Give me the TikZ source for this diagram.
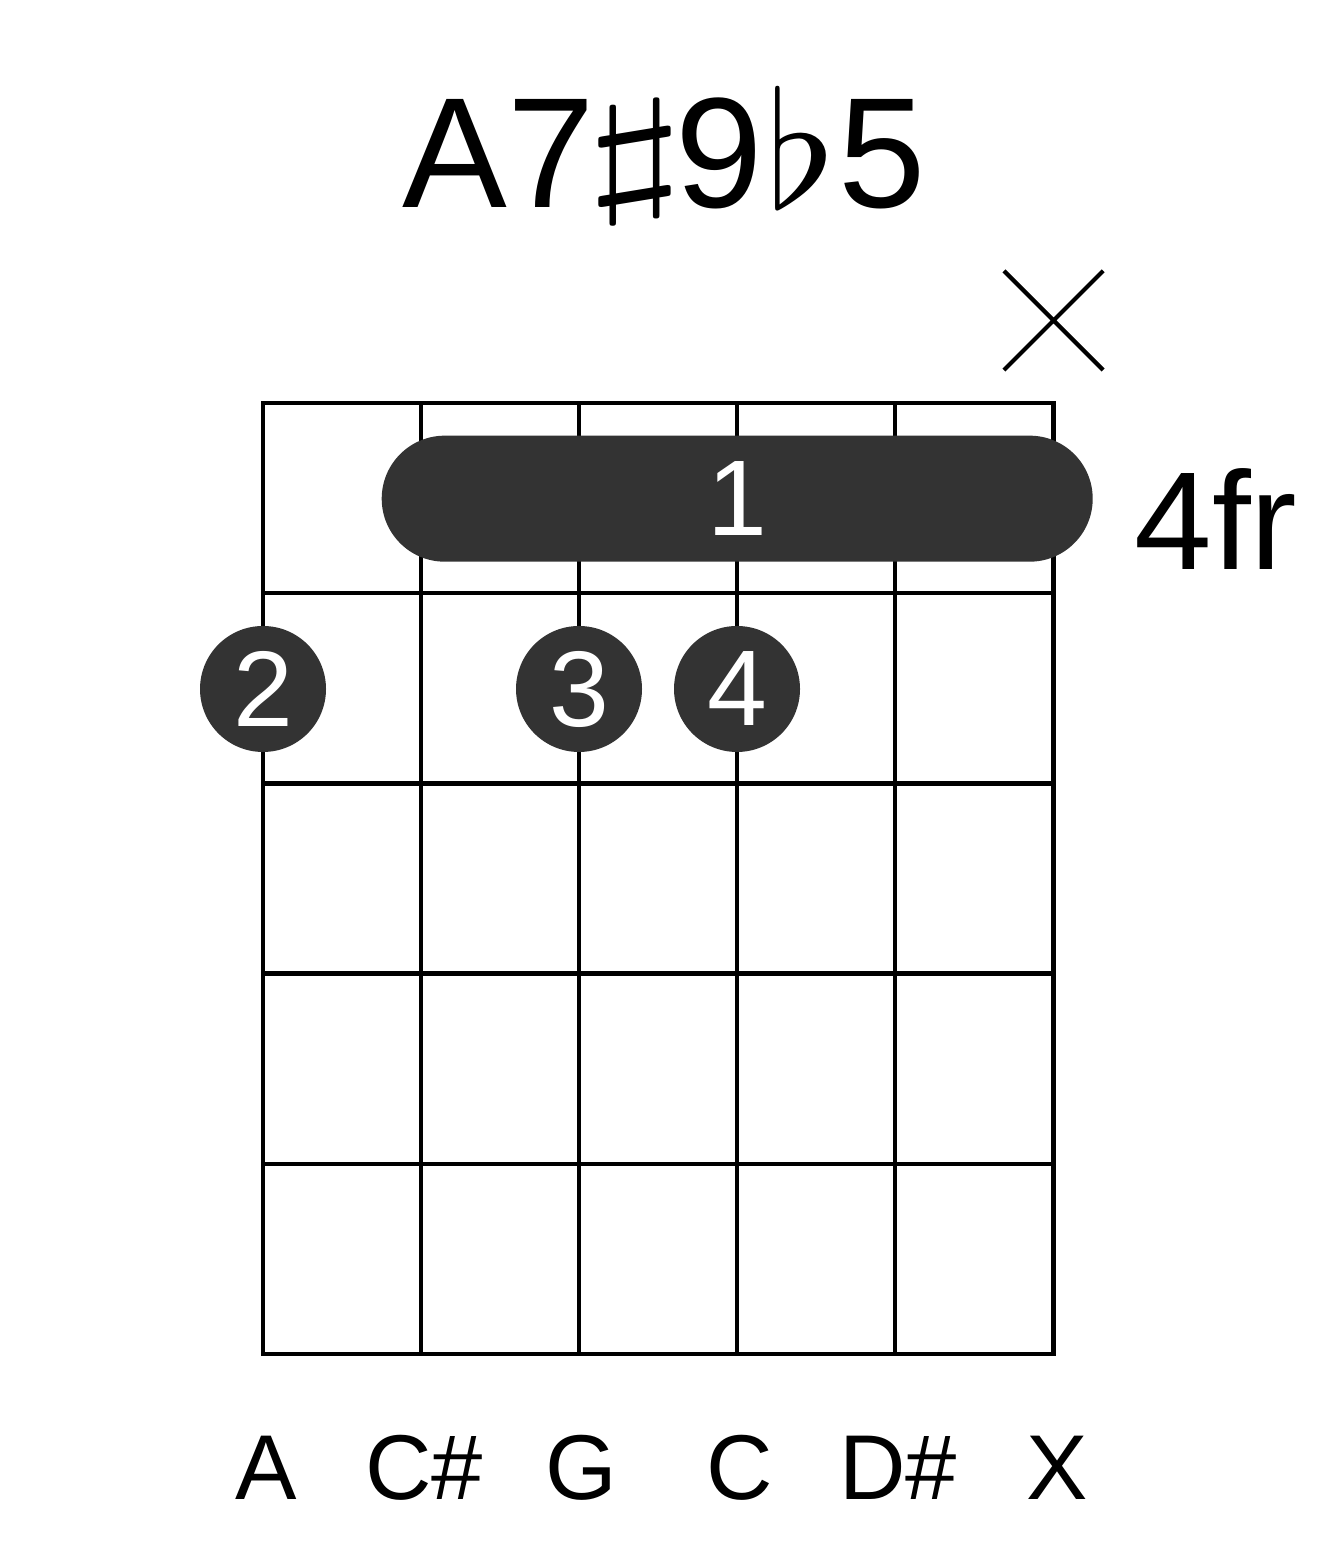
\documentclass[tikz,border=0pt]{standalone}
\usepackage{fontspec}
\usepackage{graphicx}
\setmainfont{Liberation Sans}
\usetikzlibrary{shapes.misc}
\definecolor{fingergray}{HTML}{333333}
\newcommand{\chsharp}{\makebox[0.81cm][c]{\raisebox{0.11cm}{\scalebox{7.4}[3.92]{\fontsize{10}{12}\selectfont$\sharp$}}}}
\newcommand{\chflat}{\makebox[0.75cm][c]{\scalebox{5.2}[4.6]{\fontsize{10}{12}\selectfont$\flat$}}}
\tikzset{
	fret/.style={line width=1.3pt},
	finger/.style={circle, fill=fingergray, text=white, minimum size=1.26cm, inner sep=0pt, font=\fontsize{30.6}{32}\selectfont},
	barre/.style={rounded rectangle, fill=fingergray, text=white, minimum width=7.11cm, minimum height=1.26cm, inner sep=0pt, font=\fontsize{30.6}{32}\selectfont},
	mute/.style={cross out, draw, line width=1.2pt, minimum size=0.95cm, inner sep=0pt},
	note/.style={anchor=base, font=\fontsize{26.2}{28}\selectfont}
}
\begin{document}
\begin{tikzpicture}
			\useasboundingbox (0,0) rectangle (13.17,15.51);
			\node[anchor=base west, inner sep=0pt, font=\fontsize{44.7}{50}\selectfont] (title) at (4.02,13.43) {A7\chsharp9\chflat5};
			\node[mute] (mute) at (10.535,12.305) {};
			% grid
			\draw[fret] (2.63,1.97) rectangle (10.535,11.48);
			\draw[fret] (4.21,1.97) -- (4.21,11.48);
			\draw[fret] (5.79,1.97) -- (5.79,11.48);
			\draw[fret] (7.37,1.97) -- (7.37,11.48);
			\draw[fret] (8.95,1.97) -- (8.95,11.48);
			\draw[fret] (2.63,9.578) -- (10.535,9.578);
			\draw[fret] (2.63,7.676) -- (10.535,7.676);
			\draw[fret] (2.63,5.774) -- (10.535,5.774);
			\draw[fret] (2.63,3.872) -- (10.535,3.872);
			% fingers
			\node[barre] (barre) at (7.372,10.523) {1};
			\node[finger] (two) at (2.63,8.62) {2};
			\node[finger] (three) at (5.79,8.62) {3};
			\node[finger] (four) at (7.37,8.62) {4};
			\node[anchor=base, font=\fontsize{39.7}{42}\selectfont] (pos) at (12.16,9.81) {4fr};
			% notes
			\node[note] (nA) at (2.66,0.52) {A};
			\node[note] (nCs) at (4.24,0.52) {C\#};
			\node[note] (nG) at (5.81,0.52) {G};
			\node[note] (nC) at (7.40,0.52) {C};
			\node[note] (nDs) at (8.98,0.52) {D\#};
			\node[note] (nX) at (10.57,0.52) {X};
\end{tikzpicture}
\end{document}
